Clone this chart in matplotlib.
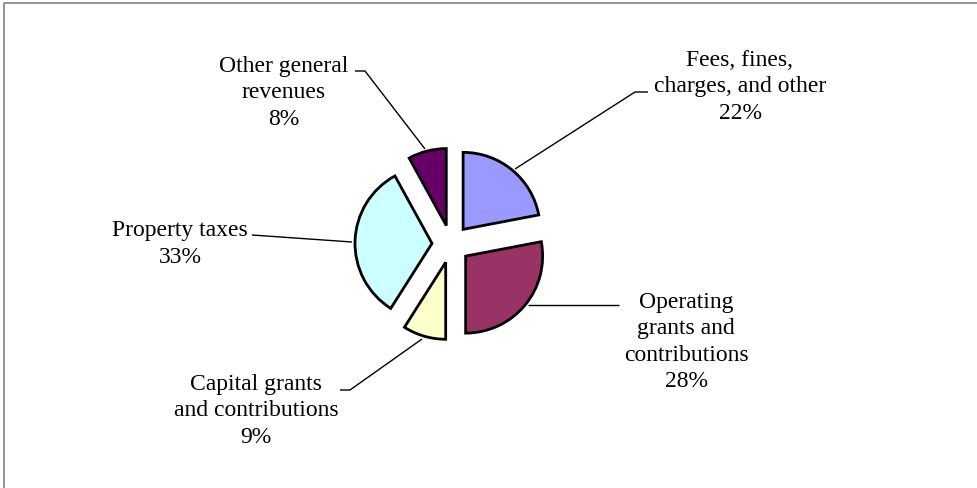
import matplotlib
matplotlib.use("Agg")
import matplotlib.pyplot as plt

categories = ["Fees, fines,\ncharges, and other", "Operating\ngrants and\ncontributions",
              "Capital grants\nand contributions", "Property taxes", "Other general\nrevenues"]
values = [22, 28, 9, 33, 8]
colors = ["#9999FF", "#993366", "#FFFFCC", "#CCFFFF", "#660066"]

W, H = 977, 489
fig = plt.figure(figsize=(W / 100, H / 100), dpi=100)
ax = fig.add_axes([0, 0, 1, 1])

def Y(y):
    return H - y

R = 77
ax.pie(values, colors=colors, startangle=90, counterclock=False,
       center=(451, Y(245)), radius=R, explode=[19] * len(values),
       wedgeprops=dict(edgecolor="black", linewidth=2.0), frame=True)
ax.set_xlim(0, W)
ax.set_ylim(0, H)
ax.set_aspect("equal")
ax.axis("off")

# border (top and left only visible)
ax.plot([4, 4, W + 5], [Y(H + 5), Y(4), Y(4)], color="#808080", lw=1.2, clip_on=False)

total = sum(values)
labels = [f"{c}\n{round(v * 100 / total)}%" for c, v in zip(categories, values)]
label_pos = [(740, 87), (686, 342), (256, 411), (180, 244), (284, 93)]
leaders = [
    [(515, 170), (635, 93), (648, 93)],
    [(528, 306), (619, 306)],
    [(422, 340), (350, 391), (340, 391)],
    [(352, 243), (252, 236)],
    [(425, 150), (365, 72), (355, 72)],
]

for lab, (x, y) in zip(labels, label_pos):
    ax.text(x, Y(y), lab, ha="center", va="center", multialignment="center",
            fontsize=17, family="Liberation Serif", linespacing=1.33, color="black")

for pts in leaders:
    ax.plot([p[0] for p in pts], [Y(p[1]) for p in pts], color="black", lw=1.0,
            solid_capstyle="butt")

fig.savefig("out.png", dpi=100)
